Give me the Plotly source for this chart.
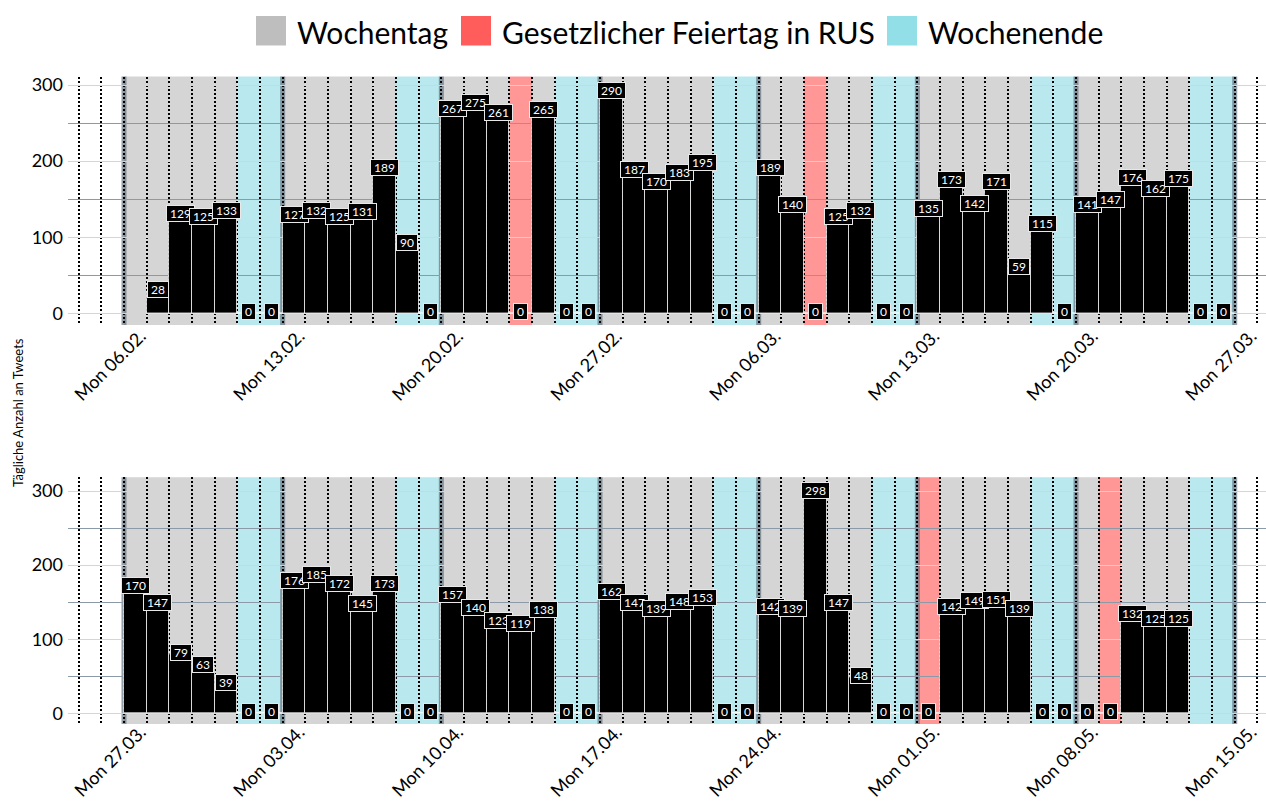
import pandas as pd
import plotly.graph_objects as go

# ---------------- data ----------------
top_start = "2023-02-06"
bottom_start = "2023-03-27"

top_values = [None, 28, 129, 125, 133, 0, 0,
              127, 132, 125, 131, 189, 90, 0,
              267, 275, 261, 0, 265, 0, 0,
              290, 187, 170, 183, 195, 0, 0,
              189, 140, 0, 125, 132, 0, 0,
              135, 173, 142, 171, 59, 115, 0,
              141, 147, 176, 162, 175, 0, 0]

bottom_values = [170, 147, 79, 63, 39, 0, 0,
                 176, 185, 172, 145, 173, 0, 0,
                 157, 140, 123, 119, 138, 0, 0,
                 162, 147, 139, 148, 153, 0, 0,
                 142, 139, 298, 147, 48, 0, 0,
                 0, 142, 149, 151, 139, 0, 0,
                 0, 0, 132, 125, 125, None, None]

holidays = ["2023-02-23", "2023-03-08", "2023-05-01", "2023-05-09"]
legend_labels = ["Wochentag", "Gesetzlicher Feiertag in RUS", "Wochenende"]
y_ticks = [0, 100, 200, 300]
y_title = "Tägliche Anzahl an Tweets"

# ---------------- styles ----------------
FONT = "Lato"
W, H = 1266, 801
band_colors = {"Wochentag": "#d5d5d5",
               "Gesetzlicher Feiertag in RUS": "#ff9797",
               "Wochenende": "#b9e9ef"}
legend_colors = {"Wochentag": "#bebebe",
                 "Gesetzlicher Feiertag in RUS": "#ff5c5c",
                 "Wochenende": "#93dfe8"}
DAY = pd.Timedelta(days=1)
DAY_MS = 86400000

holiday_set = set(pd.to_datetime(holidays))


def day_type(d):
    if d in holiday_set:
        return "Gesetzlicher Feiertag in RUS"
    if d.weekday() >= 5:
        return "Wochenende"
    return "Wochentag"


fig = go.Figure()
shapes = []
annotations = []

panels = [
    (top_start, top_values, "x", "y", [1 - 325 / H, 1 - 76.5 / H], [-15.4, 311.2], -4),
    (bottom_start, bottom_values, "x2", "y2", [1 - 724 / H, 1 - 477.3 / H], [-14.4, 318.5], -7),
]

week_line = dict(color="rgba(80,96,112,0.6)", width=5)

layout_axes = {}
for i, (start, values, xr, yr, ydom, yrange, standoff) in enumerate(panels):
    start_ts = pd.Timestamp(start)
    dates = pd.date_range(start_ts, periods=len(values), freq="D")
    centers = [d - DAY / 2 for d in dates]

    # background bands per day
    for d in dates:
        shapes.append(dict(type="rect", xref=xr, yref=f"{yr} domain",
                           x0=(d - DAY).isoformat(), x1=d.isoformat(), y0=0, y1=1,
                           fillcolor=band_colors[day_type(d)], line=dict(width=0),
                           layer="below"))
    # week separators
    for d in dates:
        if d.weekday() == 0:
            shapes.append(dict(type="line", xref=xr, yref=f"{yr} domain",
                               x0=(d - DAY).isoformat(), x1=(d - DAY).isoformat(), y0=0, y1=1,
                               line=week_line, layer="below"))
    last = dates[-1]
    shapes.append(dict(type="line", xref=xr, yref=f"{yr} domain",
                       x0=last.isoformat(), x1=last.isoformat(), y0=0, y1=1,
                       line=week_line, layer="below"))

    fig.add_trace(go.Bar(
        x=centers, y=values, width=DAY_MS, xaxis=xr, yaxis=yr,
        marker=dict(color="black", line=dict(color="rgba(255,255,255,0.75)", width=1)),
        showlegend=False, hoverinfo="x+y",
    ))

    for c, v in zip(centers, values):
        if v is None:
            continue
        annotations.append(dict(
            xref=xr, yref=yr, x=c.isoformat(), y=v, yshift=2,
            text=f"\u00a0{v}\u00a0", showarrow=False,
            font=dict(family=FONT, size=12, color="white"),
            bgcolor="black", bordercolor="#e8e8e8", borderwidth=1, borderpad=0,
            xanchor="center", yanchor="middle",
        ))

    x_range = [(start_ts - pd.Timedelta(days=3.47)).isoformat(),
               (start_ts + pd.Timedelta(days=49.38)).isoformat()]
    axis_suffix = "" if i == 0 else "2"
    layout_axes[f"xaxis{axis_suffix}"] = dict(
        type="date", domain=[68 / W, 1], anchor=yr, range=x_range,
        tickmode="linear", tick0=start_ts.isoformat(), dtick=7 * DAY_MS,
        tickformat="%a %d.%m.", tickangle=-45, ticks="",
        ticklabelshift=-6, ticklabelstandoff=standoff, ticklabeloverflow="allow",
        tickfont=dict(family=FONT, size=18, color="black"),
        showgrid=True, gridcolor="black", griddash="2px,2px", gridwidth=1.5,
        minor=dict(dtick=DAY_MS, tick0=start_ts.isoformat(), showgrid=True,
                   gridcolor="black", griddash="2px,2px", gridwidth=1.5, ticks=""),
        showline=False, zeroline=False, automargin=False, fixedrange=True,
    )
    layout_axes[f"yaxis{axis_suffix}"] = dict(
        domain=ydom, anchor=xr, range=yrange,
        tickmode="array", tickvals=y_ticks, ticks="", ticklabelstandoff=4,
        tickfont=dict(family=FONT, size=18, color="black"),
        showgrid=True, gridcolor="#d3d6d9", gridwidth=1,
        minor=dict(dtick=50, tick0=0, showgrid=True, gridcolor="#8c99a6", gridwidth=1),
        showline=False, zeroline=False, automargin=False, fixedrange=True,
    )

# custom legend
legend_x = [(256, 297), (461, 502), (887, 928)]
for lab, (sx, tx) in zip(legend_labels, legend_x):
    shapes.append(dict(type="rect", xref="paper", yref="paper",
                       x0=sx / W, x1=(sx + 30) / W, y0=1 - 45.5 / H, y1=1 - 16 / H,
                       fillcolor=legend_colors[lab], line=dict(width=0), layer="above"))
    annotations.append(dict(xref="paper", yref="paper", x=(tx - 2) / W, y=1 - 32 / H,
                            text=lab, showarrow=False, xanchor="left", yanchor="middle",
                            font=dict(family=FONT, size=30, color="black")))

annotations.append(dict(xref="paper", yref="paper", x=18 / W, y=1 - 413 / H,
                        text=y_title, textangle=-90, showarrow=False,
                        xanchor="center", yanchor="middle",
                        font=dict(family=FONT, size=13, color="black")))

fig.update_layout(
    width=W, height=H,
    margin=dict(l=0, r=0, t=0, b=0),
    paper_bgcolor="white", plot_bgcolor="white",
    bargap=0, showlegend=False,
    shapes=shapes, annotations=annotations,
    font=dict(family=FONT),
    **layout_axes,
)

fig.write_html("out.html", config={"displayModeBar": False},
               post_script="document.body.style.margin='0px';")
